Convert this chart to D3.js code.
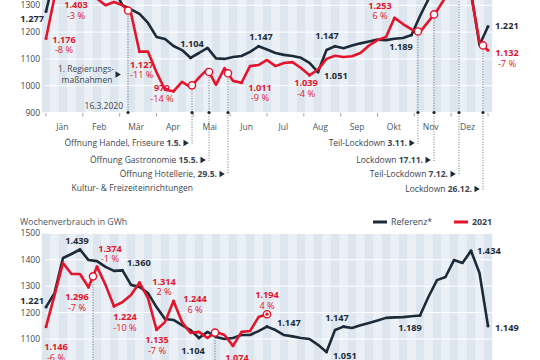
<!DOCTYPE html>
<html><head><meta charset="utf-8">
<script src="https://cdn.jsdelivr.net/npm/d3@7"></script>
<style>
html,body{margin:0;padding:0;background:#fff;}
svg{display:block;font-family:"Open Sans",sans-serif;}
</style></head>
<body><svg id="c" width="540" height="360"></svg>
<script>
// ---------- DATA ----------
const weeks = d3.range(1, 54);
const months = ["Jän","Feb","Mär","Apr","Mai","Jun","Jul","Aug","Sep","Okt","Nov","Dez"];
const topTicks = [900, 1000, 1100, 1200, 1300];
const bottomTicks = [1100, 1200, 1300, 1400, 1500];
// top panel: 2020 vs reference (weekly consumption, GWh)
const topReference = [1277,1407,1422,1439,1399,1395,1373,1358,1360,1300,1285,1268,1234,1182,1174,1148,1133,1104,1122,1141,1102,1100,1107,1111,1126,1147,1135,1122,1115,1111,1104,1085,1051,1133,1147,1140,1150,1158,1165,1172,1170,1175,1178,1189,1260,1323,1335,1399,1388,1434,1350,1152,1221];
const top2020 = [1176,1330,1403,1385,1370,1375,1325,1300,1312,1300,1270,1127,1127,1050,985,979,1014,995,1030,1062,1003,1066,1018,1011,1073,1077,1096,1073,1085,1088,1066,1039,1060,1100,1112,1107,1110,1122,1150,1170,1182,1253,1230,1210,1200,1240,1280,1330,1380,1400,1340,1163,1132];
// bottom panel: 2021 vs reference
const bottomReference = [1221,1274,1407,1422,1439,1399,1395,1373,1358,1360,1305,1297,1274,1221,1176,1172,1153,1134,1104,1127,1108,1100,1104,1115,1115,1130,1147,1134,1115,1110,1104,1100,1078,1051,1134,1147,1142,1152,1161,1170,1180,1182,1183,1186,1189,1260,1323,1335,1399,1388,1434,1350,1149];
const bottom2021 = [1146,1265,1388,1346,1346,1296,1374,1305,1224,1240,1267,1314,1255,1135,1164,1244,1164,1123,1127,1104,1127,1115,1074,1127,1130,1183,1194];
// events (position in weeks)
const topEventWeeks = [10.65, 18.18, 20.18, 22.41, 44.76, 46.65, 49.59, 52.41];
const topEventText = ["", "Öffnung Handel, Friseure ", "Öffnung Gastronomie ", "Öffnung Hotellerie, ", "Teil-Lockdown ", "Lockdown ", "Teil-Lockdown ", "Lockdown "];
const topEventDate = ["16.3.2020", "1.5.", "15.5.", "29.5.", "3.11.", "17.11.", "7.12.", "26.12."];
const bottomEventWeeks = [6.53, 20.88];
// labelled points: [panel, series, week, percent]
const pointLabels = [
  ["top","ref",1,null],["top","yr",1,"-8 %"],["top","yr",3,"-3 %"],["top","yr",12,"-11 %"],
  ["top","yr",16,"-14 %"],["top","ref",18,null],["top","ref",26,null],["top","yr",24,"-9 %"],
  ["top","yr",32,"-4 %"],["top","ref",33,null],["top","ref",35,null],["top","ref",44,null],
  ["top","yr",42,"6 %"],["top","ref",53,null],["top","yr",53,"-7 %"],
  ["bot","ref",1,null],["bot","yr",1,"-6 %"],["bot","ref",5,null],["bot","yr",7,"-1 %"],
  ["bot","ref",10,null],["bot","yr",6,"-7 %"],["bot","yr",9,"-10 %"],["bot","yr",12,"2 %"],
  ["bot","yr",14,"-7 %"],["bot","yr",16,"6 %"],["bot","ref",19,null],["bot","yr",23,null],
  ["bot","yr",27,"4 %"],["bot","ref",27,null],["bot","ref",36,null],["bot","ref",34,null],
  ["bot","ref",45,null],["bot","ref",53,null],["bot","ref",51,null]
];
// label placement (layout only): dx, dy, anchor
const labelLayout = [
  [-2,11,"end"],[18,4,"middle"],[13,30.5,"middle"],[-9.5,16,"start"],
  [-11.5,0,"middle"],[1.5,-11,"middle"],[2.5,-6,"middle"],[18.5,8,"middle"],
  [-3.5,11,"middle"],[6,6.5,"start"],[-8,-7,"middle"],[-10.5,14.5,"middle"],
  [-14.5,-9,"middle"],[7,3,"start"],[19,6,"middle"],
  [-2,-3.5,"end"],[10,23.6,"middle"],[-3,-6,"middle"],[13,-15,"middle"],
  [4.5,-4,"start"],[-11.5,13,"middle"],[11,14,"middle"],[24.5,2,"middle"],
  [0.5,13.7,"middle"],[21.5,1.5,"middle"],[-6,16.5,"middle"],[4,15.6,"middle"],
  [0,-15.7,"middle"],[10,-1,"start"],[-6.5,-6,"middle"],[6.5,6.6,"start"],
  [-10,15,"middle"],[7,5.4,"start"],[6,2.7,"start"]
];

// ---------- STYLE ----------
const RED = "#e3142b", DARK = "#1d2b38", TXT = "#3b4650";
const svg = d3.select("#c");
const de = d3.formatLocale({decimal: ",", thousands: ".", grouping: [3], currency: ["", "€"]});
const fmt = de.format(",");

const x = d3.scaleLinear().domain([1, 53]).range([46, 488]);
const xL = 45, xR = 492;
const yT = d3.scaleLinear().domain([900, 1300]).range([112.5, 5.3]);
const yB = d3.scaleLinear().domain([1100, 1500]).range([339, 233.4]);

function background(y, y0, y1, ticks) {
  const g = svg.append("g");
  g.append("rect").attr("x", xL).attr("y", y0).attr("width", xR - xL).attr("height", y1 - y0).attr("fill", "#eaf0f6");
  g.selectAll("rect.s").data(weeks.filter(w => w % 2 === 1)).join("rect").attr("class","s")
    .attr("x", w => x(w) - 4.25).attr("width", 8.5).attr("y", y0).attr("height", y1 - y0)
    .attr("fill", "#dde6ef");
  g.selectAll("line.g").data(ticks).join("line").attr("class","g")
    .attr("x1", xL).attr("x2", xR).attr("y1", d => y(d)).attr("y2", d => y(d))
    .attr("stroke", "#ffffff").attr("stroke-width", 1);
  g.selectAll("text.t").data(ticks).join("text").attr("class","t")
    .attr("x", 40).attr("y", d => y(d) + 3).attr("text-anchor", "end")
    .attr("font-size", 8.5).attr("fill", TXT).text(d => d);
}
background(yT, -5, 112.5, topTicks);
background(yB, 233.4, 365, bottomTicks);

// month ticks and labels (top panel)
const monthEdges = d3.range(13).map(i => xL + 1 + i * (442 / 12));
svg.selectAll("line.mt").data(monthEdges).join("line").attr("class","mt")
  .attr("x1", d => d).attr("x2", d => d).attr("y1", 113).attr("y2", 116.5)
  .attr("stroke", "#8a949c").attr("stroke-width", 0.8);
svg.selectAll("text.m").data(months).join("text").attr("class","m")
  .attr("x", (d, i) => (monthEdges[i] + monthEdges[i + 1]) / 2 - 2).attr("y", 130)
  .attr("text-anchor", "middle").attr("font-size", 8.5).attr("fill", "#4a5763").text(d => d);

// interpolation helper
function valAt(arr, w) {
  const i = Math.floor(w), f = w - i;
  const a = arr[i - 1], b = arr[Math.min(i, arr.length - 1)];
  return a + (b - a) * f;
}

// top event lines
const annY = [0, 146, 163, 177, 146, 163, 177, 192];
topEventWeeks.forEach((w, i) => {
  const ex = x(w), cy = yT(valAt(top2020, w));
  const yEnd = i === 0 ? 112.5 : annY[i] - 2;
  svg.append("line").attr("x1", ex).attr("x2", ex).attr("y1", cy).attr("y2", yEnd)
    .attr("stroke", "#44505a").attr("stroke-width", 0.8).attr("stroke-dasharray", "1,1.6");
  svg.append("circle").attr("cx", ex).attr("cy", 112.5).attr("r", 1.6).attr("fill", DARK);
});
bottomEventWeeks.forEach(w => {
  const ex = x(w), cy = yB(valAt(bottom2021, w));
  svg.append("line").attr("x1", ex).attr("x2", ex).attr("y1", cy).attr("y2", 362)
    .attr("stroke", "#44505a").attr("stroke-width", 0.8).attr("stroke-dasharray", "1,1.6");
});

// lines
const line = (y) => d3.line().x((d, i) => x(i + 1)).y(d => y(d));
function drawLine(arr, y, color) {
  svg.append("path").datum(arr).attr("d", line(y)).attr("fill", "none")
    .attr("stroke", color).attr("stroke-width", 2.6).attr("stroke-linejoin", "round");
}
drawLine(topReference, yT, DARK);
drawLine(top2020, yT, RED);
drawLine(bottomReference, yB, DARK);
drawLine(bottom2021, yB, RED);

// event circles
topEventWeeks.forEach(w => {
  svg.append("circle").attr("cx", x(w)).attr("cy", yT(valAt(top2020, w))).attr("r", 3.6)
    .attr("fill", "#fff").attr("stroke", RED).attr("stroke-width", 1.4);
});
bottomEventWeeks.forEach(w => {
  svg.append("circle").attr("cx", x(w)).attr("cy", yB(valAt(bottom2021, w))).attr("r", 3.6)
    .attr("fill", "#fff").attr("stroke", RED).attr("stroke-width", 1.4);
});
// latest value marker
const lastW = bottom2021.length;
svg.append("circle").attr("cx", x(lastW)).attr("cy", yB(bottom2021[lastW - 1])).attr("r", 3.6)
  .attr("fill", "#fff").attr("stroke", RED).attr("stroke-width", 1.4);
svg.append("circle").attr("cx", x(lastW)).attr("cy", yB(bottom2021[lastW - 1])).attr("r", 1.6).attr("fill", RED);

// point labels
pointLabels.forEach((p, i) => {
  const [panel, s, w, pct] = p;
  const y = panel === "top" ? yT : yB;
  const arr = panel === "top" ? (s === "ref" ? topReference : top2020) : (s === "ref" ? bottomReference : bottom2021);
  const v = arr[w - 1];
  const px = x(w), py = y(v);
  const col = s === "ref" ? DARK : RED;
  if (!(panel === "bot" && s === "yr" && w === lastW)) {
    svg.append("circle").attr("cx", px).attr("cy", py).attr("r", 1.5).attr("fill", col);
  }
  const [dx, dy, anchor] = labelLayout[i];
  const t = svg.append("text").attr("x", px + dx).attr("y", py + dy).attr("text-anchor", anchor)
    .attr("font-size", 9.2).attr("fill", col);
  t.append("tspan").attr("font-weight", 700).text(fmt(v));
  if (pct) {
    t.append("tspan").attr("x", px + dx).attr("dy", 10.5).attr("font-weight", 400).text(pct);
  }
});

// top event annotations
function tri(cx, cy) {
  svg.append("path").attr("d", `M${cx - 2.5},${cy - 3.2}L${cx + 2.8},${cy}L${cx - 2.5},${cy + 3.2}Z`).attr("fill", DARK);
}
topEventWeeks.forEach((w, i) => {
  const ex = x(w);
  if (i === 0) {
    svg.append("text").attr("x", ex - 5).attr("y", 109).attr("text-anchor", "end")
      .attr("font-size", 8.5).attr("fill", TXT).text(topEventDate[0]);
    const t = svg.append("text").attr("x", ex - 42).attr("y", 72).attr("text-anchor", "middle")
      .attr("font-size", 8.5).attr("fill", TXT);
    t.append("tspan").text("1. Regierungs-");
    t.append("tspan").attr("x", ex - 41).attr("dy", 10.5).text("maßnahmen");
    tri(ex - 10, 74.5);
    return;
  }
  const t = svg.append("text").attr("x", ex - 11).attr("y", annY[i]).attr("text-anchor", "end")
    .attr("font-size", 8.5).attr("fill", TXT);
  t.append("tspan").text(topEventText[i]);
  t.append("tspan").attr("font-weight", 700).text(topEventDate[i]);
  tri(ex - 6, annY[i] - 3);
});
svg.append("text").attr("x", 193).attr("y", 190.5).attr("text-anchor", "end")
  .attr("font-size", 8.5).attr("fill", TXT).text("Kultur- & Freizeiteinrichtungen");

// bottom title + legend
svg.append("text").attr("x", 20).attr("y", 225).attr("font-size", 8.8).attr("fill", "#4a5763").text("Wochenverbrauch in GWh");
svg.append("line").attr("x1", 373).attr("x2", 387).attr("y1", 222).attr("y2", 222).attr("stroke", DARK).attr("stroke-width", 3);
svg.append("text").attr("x", 391).attr("y", 225).attr("font-size", 8.8).attr("fill", TXT).text("Referenz*");
svg.append("line").attr("x1", 454).attr("x2", 468).attr("y1", 222).attr("y2", 222).attr("stroke", RED).attr("stroke-width", 3);
svg.append("text").attr("x", 472).attr("y", 225).attr("font-size", 8.8).attr("font-weight", 700).attr("fill", TXT).text("2021");
</script></body></html>
